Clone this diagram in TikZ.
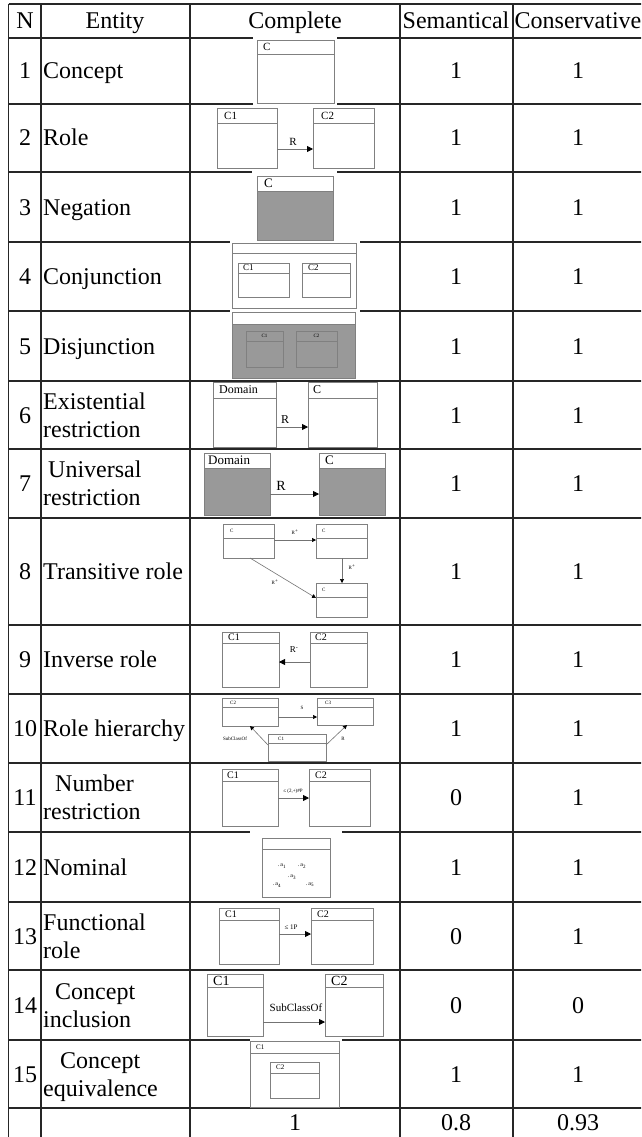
\documentclass[tikz,border=0pt]{standalone}
\usepackage{fontspec}
\setmainfont{Liberation Serif}
\usetikzlibrary{arrows.meta,fit}
\newcommand\fs[1]{\fontsize{#1}{#1}\selectfont}
\newcommand\clsbox[6]{%
  \node[clsn, fit={(#2,#3) (#4,#5)}] (#1) {};
  \draw[clsl] (#2,#6) -- (#4,#6);}
\newcommand\clsboxg[6]{%
  \fill[negfill] (#2,#6) rectangle (#4,#5);
  \clsbox{#1}{#2}{#3}{#4}{#5}{#6}}
\begin{document}
\begin{tikzpicture}[x=1pt,y=-1pt,
  tbl/.style={line width=1.3pt, draw=black!85},
  txt/.style={font=\fs{24}, inner sep=0pt, anchor=base, yshift=-8pt},
  etxt/.style={font=\fs{24}, inner sep=0pt, anchor=base west, yshift=-8pt},
  clsn/.style={draw=black!50, line width=0.8pt, inner sep=0pt, outer sep=0pt},
  clsl/.style={draw=black!50, line width=0.8pt},
  negfill/.style={fill=black!40},
  lab/.style={inner sep=0pt, anchor=west},
  clab/.style={inner sep=0pt},
  arr/.style={draw=black!55, line width=0.8pt, -{Triangle[length=6pt,width=6pt,color=black]}},
  sarr/.style={draw=black!55, line width=0.6pt, -{Triangle[length=4pt,width=4pt,color=black]}},
  blank/.style={fill=white, draw=none}
]
\useasboundingbox (0,0) rectangle (641,1137);
\clip (0,0) rectangle (641,1137);
\fill[white] (0,0) rectangle (641,1137);
% ---------------- table grid
\foreach \y in {4,38,104,172,242,311,381,449,518,625,694,763,832,902,970,1040,1108}
  \draw[tbl] (8.5,\y) -- (645,\y);
\foreach \x in {8.5,41,190,400,513,643}
  \draw[tbl] (\x,4) -- (\x,1140);
% white backgrounds of pictures (cut the rules)
\fill[blank] (253,36) rectangle (337,106);
\fill[blank] (252,170) rectangle (337,243);
\fill[blank] (230,240) rectangle (360,313);
\fill[blank] (250,830) rectangle (342,900);
\fill[blank] (250,1038) rectangle (342,1106);
% ---------------- header
\node[txt] (hN) at (25,21) {N};
\node[txt] (hE) at (115,21) {Entity};
\node[txt] (hC) at (295,21) {Complete};
\node[txt] (hS) at (456,21) {Semantical};
\node[txt] (hK) at (578,21) {Conservative};
% ---------------- numbers and scores
\foreach \r/\y/\s/\c in {1/71/1/1,2/138/1/1,3/207/1/1,4/276.5/1/1,5/346/1/1,6/415/1/1,7/483.5/1/1,8/571.5/1/1,9/659.5/1/1,10/728.5/1/1,11/797.5/0/1,12/867/1/1,13/936/0/1,14/1005/0/0,15/1074/1/1}{
  \node[txt] (num\r) at (25,\y) {\r};
  \node[txt] (sem\r) at (456,\y) {\s};
  \node[txt] (con\r) at (578,\y) {\c};
}
\node[txt] (totc) at (295,1122) {1};
\node[txt] (tots) at (456,1122) {0.8};
\node[txt] (totk) at (578,1122) {0.93};
% ---------------- entity names
\node[etxt] (e1) at (43,71) {Concept};
\node[etxt] (e2) at (43,138) {Role};
\node[etxt] (e3) at (43,207) {Negation};
\node[etxt] (e4) at (43,276.5) {Conjunction};
\node[etxt] (e5) at (43,346) {Disjunction};
\node[etxt] (e6a) at (43,401) {Existential};
\node[etxt] (e6b) at (43,429) {restriction};
\node[etxt] (e7a) at (48,469.5) {Universal};
\node[etxt] (e7b) at (43,497.5) {restriction};
\node[etxt] (e8) at (43,571.5) {Transitive role};
\node[etxt] (e9) at (43,659.5) {Inverse role};
\node[etxt] (e10) at (43,728.5) {Role hierarchy};
\node[etxt] (e11a) at (55,783.5) {Number};
\node[etxt] (e11b) at (43,811.5) {restriction};
\node[etxt] (e12) at (43,867) {Nominal};
\node[etxt] (e13a) at (43,922) {Functional};
\node[etxt] (e13b) at (43,950) {role};
\node[etxt] (e14a) at (55,991) {Concept};
\node[etxt] (e14b) at (43,1019) {inclusion};
\node[etxt] (e15a) at (60,1060) {Concept};
\node[etxt] (e15b) at (43,1088) {equivalence};
% ---------------- 1 Concept
\clsbox{a1}{257}{40}{334}{103}{54}
\node[lab,font=\fs{11}] (a1t) at (263,47) {C};
% ---------------- 2 Role
\clsbox{b1}{217}{108}{277}{168}{123}
\clsbox{b2}{313}{108}{374}{168}{123}
\node[lab,font=\fs{11}] (b1t) at (224,115.5) {C1};
\node[lab,font=\fs{11}] (b2t) at (321,115.5) {C2};
\coordinate (y2) at (0,149);
\draw[arr] (b1.east |- y2) -- (b2.west |- y2);
\node[clab,font=\fs{11}] (b12) at (293,142) {R};
% ---------------- 3 Negation
\clsboxg{n1}{257}{176}{333}{240}{191}
\node[lab,font=\fs{13}] (n1t) at (264,183.5) {C};
% ---------------- 4 Conjunction
\clsbox{d0}{232}{243}{356}{308}{253}
\clsbox{d1}{238}{263}{289}{297}{273}
\clsbox{d2}{302}{263}{350}{297}{273}
\node[lab,font=\fs{9}] (d1t) at (243,268) {C1};
\node[lab,font=\fs{9}] (d2t) at (308,268) {C2};
% ---------------- 5 Disjunction
\clsboxg{g0}{232}{312}{355}{378}{324}
\clsboxg{g1}{246}{331}{283}{367}{341}
\clsboxg{g2}{296}{331}{337}{367}{341}
\node[clab,font=\fs{5}] (g1t) at (264.5,336) {C1};
\node[clab,font=\fs{5}] (g2t) at (316.5,336) {C2};
% ---------------- 6 Existential restriction
\clsbox{f1}{213}{382}{276}{447}{398}
\clsbox{f2}{308}{382}{377}{447}{398}
\node[lab,font=\fs{12}] (f1t) at (219,390) {Domain};
\node[lab,font=\fs{12}] (f2t) at (313,390) {C};
\coordinate (y6) at (0,427);
\draw[arr] (f1.east |- y6) -- (f2.west |- y6);
\node[clab,font=\fs{12}] (f12) at (285,420) {R};
% ---------------- 7 Universal restriction
\clsboxg{u1}{204}{453}{270}{515}{468}
\clsboxg{u2}{319}{453}{385}{515}{468}
\node[lab,font=\fs{13}] (u1t) at (208,460.5) {Domain};
\node[lab,font=\fs{13}] (u2t) at (325,460.5) {C};
\coordinate (y7) at (0,494);
\draw[arr] (u1.east |- y7) -- (u2.west |- y7);
\node[clab,font=\fs{14}] (u12) at (281,486) {R};
% ---------------- 8 Transitive role
\clsbox{h1}{223}{524}{274}{558}{538}
\clsbox{h2}{316}{524}{367}{558}{538}
\clsbox{h3}{316}{583}{367}{617}{597}
\node[lab,font=\fs{5}] (h1t) at (230,531) {C};
\node[lab,font=\fs{5}] (h2t) at (322,531) {C};
\node[lab,font=\fs{5}] (h3t) at (322,590) {C};
\coordinate (y8) at (0,540);
\coordinate (x8) at (342,0);
\coordinate (x8a) at (250,0);
\coordinate (y8d) at (0,598);
\draw[sarr] (h1.east |- y8) -- (h2.west |- y8);
\draw[sarr] (h2.south -| x8) -- (h3.north -| x8);
\draw[sarr] (h1.south -| x8a) -- (h3.west |- y8d);
\node[clab,font=\fs{5}] (h12) at (295,532) {R\textsuperscript{+}};
\node[clab,font=\fs{5}] (h23) at (352,567) {R\textsuperscript{+}};
\node[clab,font=\fs{5}] (h13) at (275,582) {R\textsuperscript{+}};
% ---------------- 9 Inverse role
\clsbox{i1}{222}{632}{279}{687}{643}
\clsbox{i2}{310}{632}{367}{687}{643}
\node[lab,font=\fs{10}] (i1t) at (228,637.5) {C1};
\node[lab,font=\fs{10}] (i2t) at (315,637.5) {C2};
\coordinate (y9) at (0,662);
\draw[arr] (i2.west |- y9) -- (i1.east |- y9);
\node[clab,font=\fs{9}] (i21) at (294,650) {R\textsuperscript{-}};
% ---------------- 10 Role hierarchy
\clsbox{j2}{222}{698}{278}{726}{707}
\clsbox{j3}{317}{698}{373}{725}{707}
\clsbox{j1}{268}{734}{326}{761}{743}
\node[lab,font=\fs{5}] (j2t) at (230,702.5) {C2};
\node[lab,font=\fs{5}] (j3t) at (325,702.5) {C3};
\node[lab,font=\fs{5}] (j1t) at (278,738.5) {C1};
\coordinate (y10) at (0,717);
\coordinate (y10a) at (0,745);
\coordinate (x10a) at (250,0);
\coordinate (x10b) at (347,0);
\draw[sarr] (j2.east |- y10) -- (j3.west |- y10);
\draw[sarr] (j1.west |- y10a) -- (j2.south -| x10a);
\draw[sarr] (j1.east |- y10a) -- (j3.south -| x10b);
\node[clab,font=\fs{5}] (j23) at (302,708) {S};
\node[clab,font=\fs{5}] (j12) at (235,739) {SubClassOf};
\node[clab,font=\fs{5}] (j13) at (343,739) {R};
% ---------------- 11 Number restriction
\clsbox{k1}{222}{769}{278}{826}{781}
\clsbox{k2}{309}{769}{370}{826}{781}
\node[lab,font=\fs{10}] (k1t) at (227,775) {C1};
\node[lab,font=\fs{10}] (k2t) at (315,775) {C2};
\coordinate (y11) at (0,798);
\draw[arr] (k1.east |- y11) -- (k2.west |- y11);
\node[clab,font=\fs{5}] (k12) at (293,791) {≤ (2,+)\#P};
% ---------------- 12 Nominal
\clsbox{l1}{262}{838}{330}{897}{849}
\node[clab,font=\fs{6}] (l1a) at (282,866) {.\,a\textsubscript{1}};
\node[clab,font=\fs{6}] (l1b) at (302,866) {.\,a\textsubscript{2}};
\node[clab,font=\fs{6}] (l1c) at (292,877) {.\,a\textsubscript{3}};
\node[clab,font=\fs{6}] (l1d) at (277,885) {.\,a\textsubscript{4}};
\node[clab,font=\fs{6}] (l1e) at (310,885) {.\,a\textsubscript{5}};
% ---------------- 13 Functional role
\clsbox{m1}{219}{908}{279}{964}{920}
\clsbox{m2}{311}{908}{373}{964}{920}
\node[lab,font=\fs{10}] (m1t) at (225,914) {C1};
\node[lab,font=\fs{10}] (m2t) at (317,914) {C2};
\coordinate (y13) at (0,934);
\draw[arr] (m1.east |- y13) -- (m2.west |- y13);
\node[clab,font=\fs{7}] (m12) at (291,927) {≤ 1P};
% ---------------- 14 Concept inclusion
\clsbox{o1}{207}{974}{263}{1036}{987}
\clsbox{o2}{325}{974}{383}{1036}{987}
\node[lab,font=\fs{14}] (o1t) at (213,980.5) {C1};
\node[lab,font=\fs{14}] (o2t) at (331,980.5) {C2};
\coordinate (y14) at (0,1022);
\draw[arr] (o1.east |- y14) -- (o2.west |- y14);
\node[clab,font=\fs{11}] (o12) at (296,1008) {SubClassOf};
% ---------------- 15 Concept equivalence
\clsbox{p1}{250}{1041}{339}{1107}{1053}
\clsbox{p2}{270}{1062}{319}{1098}{1073}
\node[lab,font=\fs{7}] (p1t) at (256,1047) {C1};
\node[lab,font=\fs{7}] (p2t) at (276,1067.5) {C2};
\end{tikzpicture}
\end{document}
